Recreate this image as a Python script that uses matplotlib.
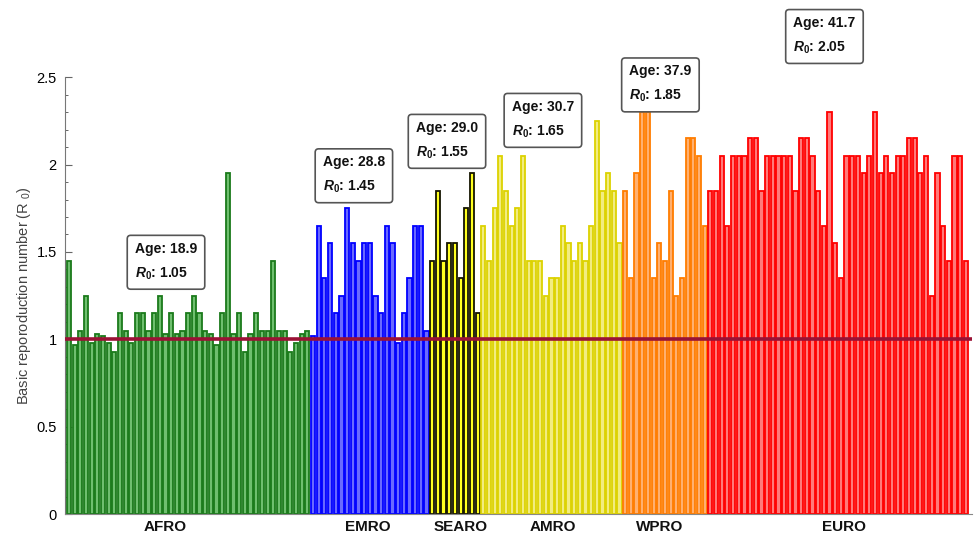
import matplotlib
matplotlib.use("Agg")
import matplotlib.pyplot as plt
from matplotlib.ticker import MultipleLocator, FuncFormatter

plt.rcParams['font.family'] = ['Liberation Sans', 'DejaVu Sans']
plt.rcParams['mathtext.fontset'] = 'custom'
plt.rcParams['mathtext.it'] = 'Liberation Sans:italic:bold'
plt.rcParams['mathtext.bf'] = 'Liberation Sans:bold'
plt.rcParams['mathtext.rm'] = 'Liberation Sans'

# ---- data ----
regions = ["AFRO", "EMRO", "SEARO", "AMRO", "WPRO", "EURO"]
afro = [1.45, 0.97, 1.05, 1.25, 0.98, 1.03, 1.02, 0.98, 0.93, 1.15, 1.05, 0.98,
        1.15, 1.15, 1.05, 1.15, 1.25, 1.03, 1.15, 1.03, 1.05, 1.15, 1.25, 1.15,
        1.05, 1.03, 0.97, 1.15, 1.95, 1.03, 1.15, 0.93, 1.03, 1.15, 1.05, 1.05,
        1.45, 1.05, 1.05, 0.93, 0.98, 1.03, 1.05]
emro = [1.02, 1.65, 1.35, 1.55, 1.15, 1.25, 1.75, 1.55, 1.45, 1.55, 1.55, 1.25,
        1.15, 1.65, 1.55, 0.98, 1.15, 1.35, 1.65, 1.65, 1.05]
searo = [1.45, 1.85, 1.45, 1.55, 1.55, 1.35, 1.75, 1.95, 1.15]
amro = [1.65, 1.45, 1.75, 2.05, 1.85, 1.65, 1.75, 2.05, 1.45, 1.45, 1.45, 1.25,
        1.35, 1.35, 1.65, 1.55, 1.45, 1.55, 1.45, 1.65, 2.25, 1.85, 1.95, 1.85,
        1.55]
wpro = [1.85, 1.35, 1.95, 2.30, 2.30, 1.35, 1.55, 1.45, 1.85, 1.25, 1.35, 2.15,
        2.15, 2.05, 1.65]
euro = [1.85, 1.85, 2.05, 1.65, 2.05, 2.05, 2.05, 2.15, 2.15, 1.85, 2.05, 2.05,
        2.05, 2.05, 2.05, 1.85, 2.15, 2.15, 2.05, 1.85, 1.65, 2.30, 1.55, 1.35,
        2.05, 2.05, 2.05, 1.95, 2.05, 2.30, 1.95, 2.05, 1.95, 2.05, 2.05, 2.15,
        2.15, 1.95, 2.05, 1.25, 1.95, 1.65, 1.45, 2.05, 2.05, 1.45]
series = [afro, emro, searo, amro, wpro, euro]
median_age = ["18.9", "28.8", "29.0", "30.7", "37.9", "41.7"]
region_r0 = ["1.05", "1.45", "1.55", "1.65", "1.85", "2.05"]
threshold = 1.0

# ---- style ----
edge_colors = ["#1a7a1a", "#0000ff", "#151500", "#dcd200", "#ff7d00", "#ff0000"]
face_colors = ["#6fbf6f", "#6a6aff", "#ffff20", "#f2ec80", "#ffb070", "#ff7a7a"]
label_x = [16.9, 52.6, 69.0, 85.2, 104.0, 136.6]
box_xy = [(17.1, 1.445), (50.2, 1.94), (66.6, 2.137), (83.5, 2.257),
          (104.2, 2.46), (133.1, 2.737)]

fig = plt.figure(figsize=(9.74, 5.40), dpi=100)
ax = fig.add_axes([0.0667, 0.048, 0.931, 0.809])

start = 0
for i, vals in enumerate(series):
    xs = list(range(start, start + len(vals)))
    ax.bar(xs, vals, width=0.74, color=face_colors[i], edgecolor=edge_colors[i],
           linewidth=1.3, zorder=2)
    start += len(vals)
n_total = start

ax.axhline(threshold, color="#9a1235", lw=2.6, zorder=3)

ax.set_xlim(-0.7, n_total - 1 + 1.05)
ax.set_ylim(0, 2.5)
ax.set_xticks([])
ax.yaxis.set_major_locator(MultipleLocator(0.5))
ax.yaxis.set_minor_locator(MultipleLocator(0.1))
ax.yaxis.set_major_formatter(FuncFormatter(lambda v, p: f"{v:g}"))
ax.tick_params(axis='y', which='major', direction='in', length=5, width=0.8,
               color="#666666", labelsize=10.5, pad=6)
ax.tick_params(axis='y', which='minor', direction='in', length=2.5, width=0.7,
               color="#666666")
for s in ["top", "right"]:
    ax.spines[s].set_visible(False)
ax.spines["left"].set_color("#777777")
ax.spines["bottom"].set_color("#888888")
ax.set_ylabel(r"Basic reporoduction number (R $_{\mathrm{0}}$)", fontsize=10.5,
              color="#444444", labelpad=2)

for i, name in enumerate(regions):
    ax.text(label_x[i], -0.075, name, ha="center", va="center", fontsize=11,
            fontweight="bold", color="#111111", clip_on=False)
    bx, by = box_xy[i]
    ax.text(bx, by, f"Age: {median_age[i]}\n" + r"$R_{\mathbf{0}}$: " + region_r0[i],
            ha="center", va="center", multialignment="left", fontsize=10,
            fontweight="bold", color="#111111", linespacing=1.8, clip_on=False,
            zorder=5,
            bbox=dict(boxstyle="round,pad=0.55,rounding_size=0.25", fc="white",
                      ec="#555555", lw=1.2))

fig.savefig("out.png", dpi=100)
